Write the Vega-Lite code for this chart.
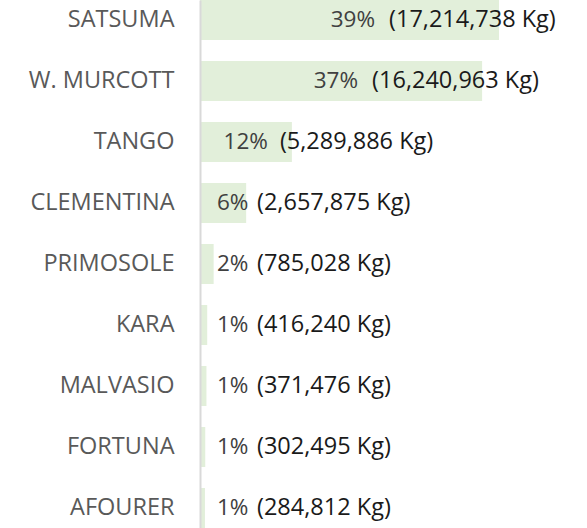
{
  "$schema": "https://vega.github.io/schema/vega-lite/v6.json",
  "width": 387,
  "height": 528,
  "padding": {"left": 200, "top": 0, "right": 0, "bottom": 0},
  "autosize": {"type": "none"},
  "background": "white",
  "config": {"view": {"stroke": null}, "font": "Open Sans"},
  "data": {
    "values": [
      {"variety": "SATSUMA", "kg": 17214738, "pct": 0.39},
      {"variety": "W. MURCOTT", "kg": 16240963, "pct": 0.37},
      {"variety": "TANGO", "kg": 5289886, "pct": 0.12},
      {"variety": "CLEMENTINA", "kg": 2657875, "pct": 0.06},
      {"variety": "PRIMOSOLE", "kg": 785028, "pct": 0.02},
      {"variety": "KARA", "kg": 416240, "pct": 0.01},
      {"variety": "MALVASIO", "kg": 371476, "pct": 0.01},
      {"variety": "FORTUNA", "kg": 302495, "pct": 0.01},
      {"variety": "AFOURER", "kg": 284812, "pct": 0.01}
    ]
  },
  "transform": [
    {"calculate": "'(' + format(datum.kg, ',') + ' Kg)'", "as": "kgLabel"}
  ],
  "encoding": {
    "y": {
      "field": "variety",
      "type": "nominal",
      "sort": null,
      "scale": {"paddingInner": 0.344, "paddingOuter": 0},
      "axis": {
        "title": null,
        "domain": true,
        "domainColor": "#d9d9d9",
        "domainWidth": 2,
        "ticks": false,
        "labelPadding": 26,
        "labelFontSize": 23.5,
        "labelFont": "Open Sans",
        "labelColor": "#595959",
        "zindex": 1
      }
    }
  },
  "layer": [
    {
      "mark": {"type": "bar", "color": "#e2efda"},
      "encoding": {
        "x": {"field": "kg", "type": "quantitative", "scale": {"domain": [0, 22280000], "nice": false, "zero": true}, "axis": null}
      }
    },
    {
      "transform": [{"filter": "datum.kg > 10000000"}],
      "mark": {"type": "text", "align": "right", "baseline": "middle", "dx": -124, "fontSize": 22.5, "color": "#404040"},
      "encoding": {
        "x": {"field": "kg", "type": "quantitative"},
        "text": {"field": "pct", "type": "quantitative", "format": ".0%"}
      }
    },
    {
      "transform": [{"filter": "datum.kg > 10000000"}],
      "mark": {"type": "text", "align": "left", "baseline": "middle", "dx": -110, "fontSize": 23.5, "color": "#1a1a1a"},
      "encoding": {
        "x": {"field": "kg", "type": "quantitative"},
        "text": {"field": "kgLabel", "type": "nominal"}
      }
    },
    {
      "transform": [{"filter": "datum.kg > 4000000 && datum.kg <= 10000000"}],
      "mark": {"type": "text", "align": "right", "baseline": "middle", "dx": -24, "fontSize": 22.5, "color": "#404040"},
      "encoding": {
        "x": {"field": "kg", "type": "quantitative"},
        "text": {"field": "pct", "type": "quantitative", "format": ".0%"}
      }
    },
    {
      "transform": [{"filter": "datum.kg > 4000000 && datum.kg <= 10000000"}],
      "mark": {"type": "text", "align": "left", "baseline": "middle", "dx": -12, "fontSize": 23.5, "color": "#1a1a1a"},
      "encoding": {
        "x": {"field": "kg", "type": "quantitative"},
        "text": {"field": "kgLabel", "type": "nominal"}
      }
    },
    {
      "transform": [{"filter": "datum.kg <= 4000000"}],
      "mark": {"type": "text", "align": "left", "baseline": "middle", "dx": 17, "fontSize": 22.5, "color": "#404040"},
      "encoding": {
        "x": {"datum": 0, "type": "quantitative"},
        "text": {"field": "pct", "type": "quantitative", "format": ".0%"}
      }
    },
    {
      "transform": [{"filter": "datum.kg <= 4000000"}],
      "mark": {"type": "text", "align": "left", "baseline": "middle", "dx": 57, "fontSize": 23.5, "color": "#1a1a1a"},
      "encoding": {
        "x": {"datum": 0, "type": "quantitative"},
        "text": {"field": "kgLabel", "type": "nominal"}
      }
    }
  ]
}
